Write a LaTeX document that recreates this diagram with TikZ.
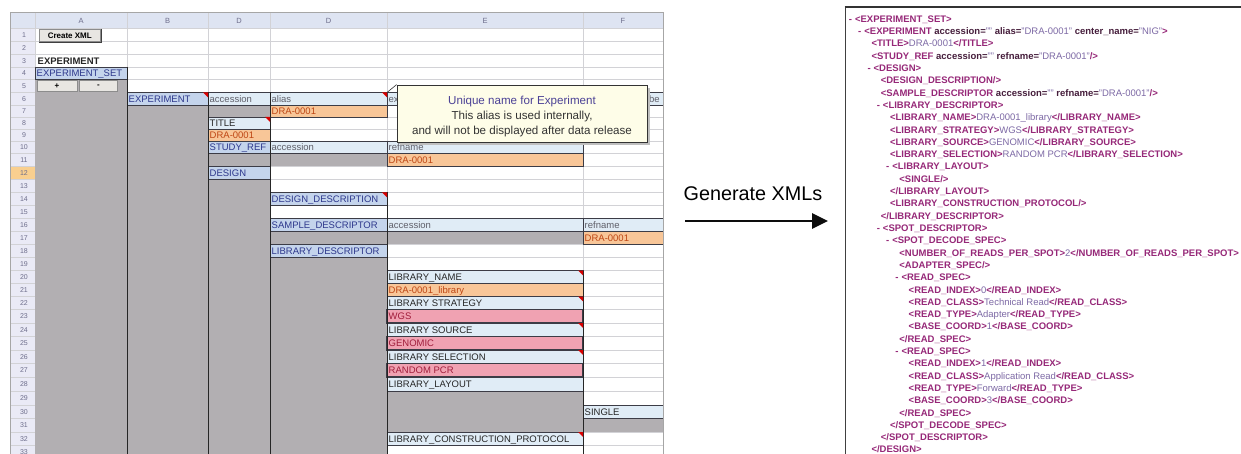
\documentclass[tikz,border=0pt]{standalone}
\usepackage{fontspec}
\setmainfont{Liberation Sans}
\usetikzlibrary{arrows.meta}
\definecolor{sgray}{RGB}{178,175,178}
\definecolor{lblue}{RGB}{196,212,236}
\definecolor{pblue}{RGB}{224,236,246}
\definecolor{orng}{RGB}{248,198,152}
\definecolor{orngtxt}{RGB}{190,70,20}
\definecolor{pnk}{RGB}{240,162,178}
\definecolor{pnktxt}{RGB}{160,30,60}
\definecolor{labtxt}{RGB}{45,55,140}
\definecolor{attxt}{RGB}{95,95,105}
\definecolor{hdrbg}{RGB}{222,228,242}
\definecolor{rnbg}{RGB}{234,234,246}
\definecolor{rntxt}{RGB}{110,110,140}
\definecolor{rowsel}{RGB}{249,207,143}
\definecolor{gridc}{RGB}{210,210,214}
\definecolor{cellb}{RGB}{60,60,70}
\definecolor{cmtbg}{RGB}{254,253,232}
\definecolor{cmtblue}{RGB}{75,65,150}
\definecolor{xtag}{RGB}{150,40,120}
\definecolor{xattr}{RGB}{70,30,60}
\definecolor{xval}{RGB}{125,105,165}
\definecolor{btnbg}{RGB}{232,230,226}
\newcommand\rowtop[1]{\ifcase\numexpr#1\relax 13\or 28.5\or 41.5\or 54.5\or 67\or 79.5\or 92.5\or 105\or 117\or 129\or 141\or 153.5\or 166.5\or 179.5\or 192.5\or 205.5\or 218.5\or 231.5\or 244.5\or 257.5\or 270.5\or 283.5\or 296.5\or 309.5\or 323\or 336.5\or 350\or 363.5\or 377\or 391\or 405\or 418.5\or 432\or 445.5\or 458.5\fi}
\newcommand\cellfont{\fontsize{9.5}{11}\selectfont}
\newcommand\xmlfont{\fontsize{9.5}{11}\selectfont\bfseries}
\newcommand\xT[1]{\textcolor{xtag}{#1}}
\newcommand\xA[1]{\textcolor{xattr}{#1}}
\newcommand\xV[1]{\textcolor{xval}{\mdseries #1}}
\newcommand\scell[6]{\edef\myyt{\rowtop{#3}}\edef\myyb{\rowtop{#3+1}}%
  \path[#4] (#1,\myyt) rectangle (#2,\myyb);%
  \node[#5] (c#3-#1) at ({#1+1.5},{(\myyt+\myyb)/2+3.5}) {#6};}
\newcommand\rowrect[5]{\edef\myyt{\rowtop{#3}}\edef\myyb{\rowtop{#4+1}}%
  \path[#5] (#1,\myyt) rectangle (#2,\myyb);}
\newcommand\redc[2]{\edef\myyt{\rowtop{#2}}\fill[redcorner] (#1-5,\myyt) -- (#1,\myyt) -- (#1,\myyt+5) -- cycle;}
\newcommand\vln[2]{\edef\myyt{\rowtop{#2}}\draw[vline] (#1,\myyt) -- (#1,458.5);}
\newcommand\xleaf[3]{\node[xml] (xl#1) at ({862+9.3*(#2-1)},{19+(#1-1)*12.3+3.4}) {#3};}
\newcommand\xexp[3]{\node[xml] (xl#1) at ({858+9.3*(#2-1)},{19+(#1-1)*12.3+3.4}) {\xT{-}\hspace{3pt}#3};}
\tikzset{
  celllb/.style={fill=lblue,draw=cellb,line width=0.7pt},
  cellpb/.style={fill=pblue,draw=cellb,line width=0.7pt},
  cellor/.style={fill=orng,draw=cellb,line width=0.7pt},
  cellpk/.style={fill=pnk,draw=cellb,line width=1.2pt},
  gcell/.style={fill=sgray},
  ctxt/.style={anchor=base west,inner sep=0pt,font=\cellfont},
  tl/.style={ctxt,text=labtxt},
  ta/.style={ctxt,text=attxt},
  td/.style={ctxt,text=black!85},
  tor/.style={ctxt,text=orngtxt},
  tpk/.style={ctxt,text=pnktxt},
  gridln/.style={draw=gridc,line width=0.5pt},
  vline/.style={draw=black!85,line width=1pt},
  redcorner/.style={fill=red!85!black},
  rn/.style={inner sep=0pt,font=\fontsize{7}{8}\selectfont,text=rntxt},
  hdr/.style={inner sep=0pt,anchor=base,font=\fontsize{7.5}{8}\selectfont,text=rntxt},
  btn/.style={fill=btnbg,draw=black!45,line width=0.6pt,inner sep=0pt,font=\fontsize{8}{9}\selectfont\bfseries},
  xml/.style={anchor=base west,inner sep=0pt,font=\xmlfont},
}
\begin{document}
\begin{tikzpicture}[x=1pt,y=-1pt]
\useasboundingbox (0,0) rectangle (1241,454);
\clip (0,0) rectangle (1241,454);
\fill[white] (0,0) rectangle (1241,454);
% ---------- spreadsheet ----------
\fill[hdrbg] (10,13) rectangle (663,28.5);
\fill[rnbg] (10,28.5) rectangle (35,458.5);
\rowrect{10}{35}{12}{12}{fill=rowsel}
\foreach \n in {1,...,34}{\edef\myyt{\rowtop{\n}}\draw[gridln] (10,\myyt) -- (663,\myyt);}
\foreach \xx in {35,127,208,270,387,583}{\draw[gridln] (\xx,13) -- (\xx,458.5);}
\foreach \n in {1,...,33}{\edef\myyt{\rowtop{\n}}\edef\myyb{\rowtop{\n+1}}\node[rn] (rn\n) at (24,{(\myyt+\myyb)/2}) {\n};}
\node[hdr] (hA) at (81,24) {A};
\node[hdr] (hB) at (167.5,24) {B};
\node[hdr] (hC) at (239,24) {D};
\node[hdr] (hD) at (328.5,24) {D};
\node[hdr] (hE) at (485,24) {E};
\node[hdr] (hF) at (623,24) {F};
% gray areas
\rowrect{35}{127}{5}{33}{gcell}
\rowrect{127}{208}{7}{33}{gcell}
\rowrect{208}{270}{7}{7}{gcell}
\rowrect{208}{270}{11}{11}{gcell}
\rowrect{208}{270}{13}{33}{gcell}
\rowrect{270}{387}{11}{11}{gcell}
\rowrect{270}{387}{17}{17}{gcell}
\rowrect{270}{387}{19}{33}{gcell}
\rowrect{387}{583}{17}{17}{gcell}
\rowrect{387}{583}{29}{31}{gcell}
\rowrect{583}{663}{31}{31}{gcell}
% top rows
\node[btn,minimum width=61pt,minimum height=12.5pt,anchor=north west] (create) at (39,29) {Create XML};
\draw[black!75,line width=1.2pt] ([xshift=0.6pt]create.north east) -- ([xshift=0.6pt,yshift=-0.6pt]create.south east) -- ([yshift=-0.6pt]create.south west);
\scell{36}{127}{3}{}{td,font=\cellfont\bfseries}{EXPERIMENT}
\scell{35}{127}{4}{celllb}{tl}{EXPERIMENT\_SET}
\node[btn,minimum width=40pt,minimum height=11pt] (plus) at (57,86) {+};
\node[btn,minimum width=38pt,minimum height=11pt] (minus) at (98.5,86) {-};
% cells
\scell{127}{208}{6}{celllb}{tl}{EXPERIMENT}
\scell{208}{270}{6}{cellpb}{ta}{accession}
\scell{270}{387}{6}{cellpb}{ta}{alias}
\scell{387}{583}{6}{cellpb}{ta}{ex}
\scell{583}{663}{6}{cellpb}{ta}{}
\node[ta] (be6) at (649,{(92.5+105)/2+3.5}) {be};
\scell{270}{387}{7}{cellor}{tor}{DRA-0001}
\scell{208}{270}{8}{cellpb}{td}{TITLE}
\scell{208}{270}{9}{cellor}{tor}{DRA-0001}
\scell{208}{270}{10}{celllb}{tl}{STUDY\_REF}
\scell{270}{387}{10}{cellpb}{ta}{accession}
\scell{387}{583}{10}{cellpb}{ta}{refname}
\scell{387}{583}{11}{cellor}{tor}{DRA-0001}
\scell{208}{270}{12}{celllb}{tl}{DESIGN}
\scell{270}{387}{14}{celllb}{tl}{DESIGN\_DESCRIPTION}
\scell{270}{387}{16}{celllb}{tl}{SAMPLE\_DESCRIPTOR}
\scell{387}{583}{16}{cellpb}{ta}{accession}
\scell{583}{663}{16}{cellpb}{ta}{refname}
\scell{583}{663}{17}{cellor}{tor}{DRA-0001}
\scell{270}{387}{18}{celllb}{tl}{LIBRARY\_DESCRIPTOR}
\scell{387}{583}{20}{cellpb}{td}{LIBRARY\_NAME}
\scell{387}{583}{21}{cellor}{tor}{DRA-0001\_library}
\scell{387}{583}{22}{cellpb}{td}{LIBRARY STRATEGY}
\scell{387}{583}{23}{cellpk}{tpk}{WGS}
\scell{387}{583}{24}{cellpb}{td}{LIBRARY SOURCE}
\scell{387}{583}{25}{cellpk}{tpk}{GENOMIC}
\scell{387}{583}{26}{cellpb}{td}{LIBRARY SELECTION}
\scell{387}{583}{27}{cellpk}{tpk}{RANDOM PCR}
\scell{387}{583}{28}{cellpb}{td}{LIBRARY\_LAYOUT}
\scell{583}{663}{30}{cellpb}{td}{SINGLE}
\scell{387}{583}{32}{cellpb}{td}{LIBRARY\_CONSTRUCTION\_PROTOCOL}
% heavy vertical lines
\vln{127}{4}
\vln{208}{6}
\vln{270}{6}
\vln{387}{14}
\vln{583}{20}
% comment indicators
\redc{208}{6}
\redc{387}{6}
\redc{270}{8}
\redc{387}{14}
\redc{583}{20}
\redc{583}{22}
\redc{583}{24}
\redc{583}{26}
\redc{583}{32}
% frame
\draw[black!35,line width=0.6pt] (10,12.5) rectangle (663,460);
% comment box
\fill[black!25] (400,88) rectangle (650,145);
\node[draw=black!80,line width=0.8pt,fill=cmtbg,minimum width=250pt,minimum height=57pt,inner sep=0pt] (cmt) at (522,113.5) {};
\node[align=center,inner sep=0pt,font=\fontsize{11.6}{15}\selectfont,text=black!80] (cmtt) at (522,117) {\textcolor{cmtblue}{Unique name for Experiment}\\This alias is used internally,\\and will not be displayed after data release};
\coordinate (cmtpin) at (387,92.5);
\draw[black!80,line width=0.6pt] (cmtpin) -- (cmt.north west);
% ---------- arrow ----------
\node[font=\fontsize{19.8}{22}\selectfont,anchor=base,inner sep=0pt] (gen) at (753,201) {Generate XMLs};
\coordinate (arrS) at (685,221);
\coordinate (arrE) at (828,221);
\draw[black!95,line width=2.6pt,-{Triangle[length=16pt,width=15pt]}] (arrS) -- (arrE);
% ---------- XML panel ----------
\draw[black!75,line width=1pt] (845,460) -- (845,7);
\draw[black!80,line width=1.8pt] (844.5,7) -- (1245,7);
\xexp{1}{0}{\xT{<EXPERIMENT\_SET>}}
\xexp{2}{1}{\xT{<EXPERIMENT} \xA{accession=}\xV{""} \xA{alias=}\xV{"DRA-0001"} \xA{center\_name=}\xV{"NIG"}\xT{>}}
\xleaf{3}{2}{\xT{<TITLE>}\xV{DRA-0001}\xT{</TITLE>}}
\xleaf{4}{2}{\xT{<STUDY\_REF} \xA{accession=}\xV{""} \xA{refname=}\xV{"DRA-0001"}\xT{/>}}
\xexp{5}{2}{\xT{<DESIGN>}}
\xleaf{6}{3}{\xT{<DESIGN\_DESCRIPTION/>}}
\xleaf{7}{3}{\xT{<SAMPLE\_DESCRIPTOR} \xA{accession=}\xV{""} \xA{refname=}\xV{"DRA-0001"}\xT{/>}}
\xexp{8}{3}{\xT{<LIBRARY\_DESCRIPTOR>}}
\xleaf{9}{4}{\xT{<LIBRARY\_NAME>}\xV{DRA-0001\_library}\xT{</LIBRARY\_NAME>}}
\xleaf{10}{4}{\xT{<LIBRARY\_STRATEGY>}\xV{WGS}\xT{</LIBRARY\_STRATEGY>}}
\xleaf{11}{4}{\xT{<LIBRARY\_SOURCE>}\xV{GENOMIC}\xT{</LIBRARY\_SOURCE>}}
\xleaf{12}{4}{\xT{<LIBRARY\_SELECTION>}\xV{RANDOM PCR}\xT{</LIBRARY\_SELECTION>}}
\xexp{13}{4}{\xT{<LIBRARY\_LAYOUT>}}
\xleaf{14}{5}{\xT{<SINGLE/>}}
\xleaf{15}{4}{\xT{</LIBRARY\_LAYOUT>}}
\xleaf{16}{4}{\xT{<LIBRARY\_CONSTRUCTION\_PROTOCOL/>}}
\xleaf{17}{3}{\xT{</LIBRARY\_DESCRIPTOR>}}
\xexp{18}{3}{\xT{<SPOT\_DESCRIPTOR>}}
\xexp{19}{4}{\xT{<SPOT\_DECODE\_SPEC>}}
\xleaf{20}{5}{\xT{<NUMBER\_OF\_READS\_PER\_SPOT>}\xV{2}\xT{</NUMBER\_OF\_READS\_PER\_SPOT>}}
\xleaf{21}{5}{\xT{<ADAPTER\_SPEC/>}}
\xexp{22}{5}{\xT{<READ\_SPEC>}}
\xleaf{23}{6}{\xT{<READ\_INDEX>}\xV{0}\xT{</READ\_INDEX>}}
\xleaf{24}{6}{\xT{<READ\_CLASS>}\xV{Technical Read}\xT{</READ\_CLASS>}}
\xleaf{25}{6}{\xT{<READ\_TYPE>}\xV{Adapter}\xT{</READ\_TYPE>}}
\xleaf{26}{6}{\xT{<BASE\_COORD>}\xV{1}\xT{</BASE\_COORD>}}
\xleaf{27}{5}{\xT{</READ\_SPEC>}}
\xexp{28}{5}{\xT{<READ\_SPEC>}}
\xleaf{29}{6}{\xT{<READ\_INDEX>}\xV{1}\xT{</READ\_INDEX>}}
\xleaf{30}{6}{\xT{<READ\_CLASS>}\xV{Application Read}\xT{</READ\_CLASS>}}
\xleaf{31}{6}{\xT{<READ\_TYPE>}\xV{Forward}\xT{</READ\_TYPE>}}
\xleaf{32}{6}{\xT{<BASE\_COORD>}\xV{3}\xT{</BASE\_COORD>}}
\xleaf{33}{5}{\xT{</READ\_SPEC>}}
\xleaf{34}{4}{\xT{</SPOT\_DECODE\_SPEC>}}
\xleaf{35}{3}{\xT{</SPOT\_DESCRIPTOR>}}
\xleaf{36}{2}{\xT{</DESIGN>}}
\end{tikzpicture}
\end{document}
